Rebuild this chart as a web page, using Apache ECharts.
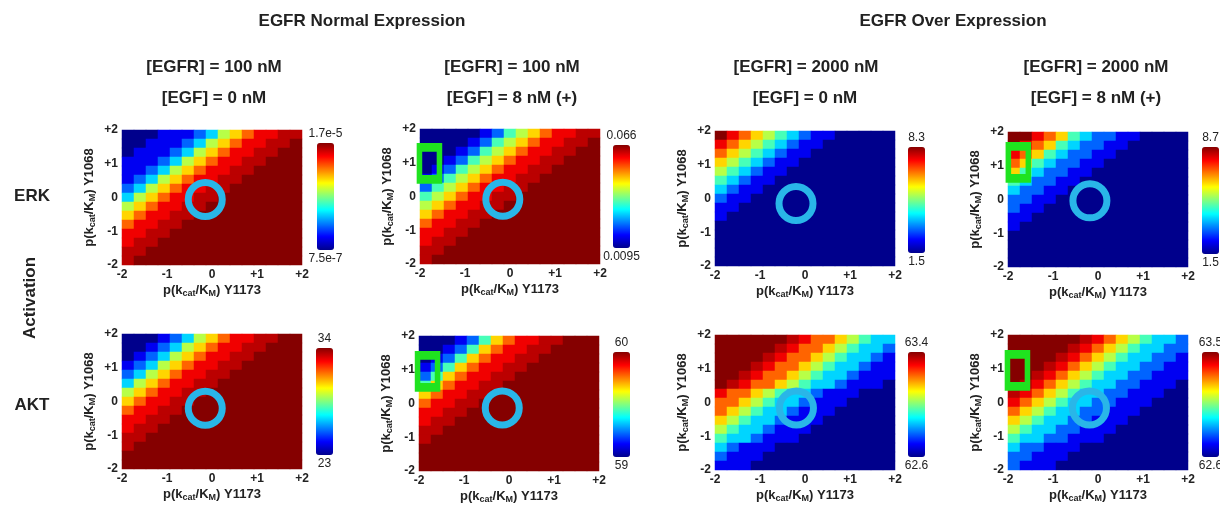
<!DOCTYPE html>
<html>
<head>
<meta charset="UTF-8">
<title>EGFR / ERK / AKT activation maps</title>
<script src="https://cdn.jsdelivr.net/npm/echarts@6/dist/echarts.min.js"></script>
<style>
  html, body { margin: 0; padding: 0; background: #fff; }
  #chart { width: 1220px; height: 506px; }
</style>
</head>
<body>
<div id="chart"></div>
<script>
// 15 x 15 cells per map, rows from +2 (top) down to -2, columns -2 .. +2
// each digit is the colour level (0 = bottom, 9 = top), x = between 8 and 9
var cells = [0, 1, 2, 3, 4, 5, 6, 7, 8, 9, 10, 11, 12, 13, 14];
var ticks = [-2, -1, 0, 1, 2];

var erkNormalNoEgf = [
  '0001112356788xx', '001112356788xx9', '01112356788xx99', '1112356788xx999', '112356788xx9999',
  '12356788xx99999', '2356788xx999999', '356788xx9999999', '56788xx99999999', '6788xx999999999',
  '788xx9999999999', '88xx99999999999', '8xx999999999999', 'xx9999999999999', 'x99999999999999'
];
var erkNormalEgf = [
  '0000012456788xx', '000012456788xx9', '00012456788xx99', '0012456788xx999', '012456788xx9999',
  '12456788xx99999', '2456788xx999999', '456788xx9999999', '56788xx99999999', '6788xx999999999',
  '788xx9999999999', '88xx99999999999', '8xx999999999999', 'xx9999999999999', 'x99999999999999'
];
var erkOverNoEgf = [
  '987654321100000', '876543211000000', '765432110000000', '654321100000000', '543211000000000',
  '432110000000000', '321100000000000', '211000000000000', '110000000000000', '100000000000000',
  '000000000000000', '000000000000000', '000000000000000', '000000000000000', '000000000000000'
];
var erkOverEgf = [
  '998764322110000', '987643221100000', '876432211000000', '764322110000000', '643221100000000',
  '432211000000000', '322110000000000', '221100000000000', '211000000000000', '110000000000000',
  '100000000000000', '000000000000000', '000000000000000', '000000000000000', '000000000000000'
];
var aktNormalNoEgf = [
  '00012356788xx99', '0012356788xx999', '012356788xx9999', '12356788xx99999', '2356788xx999999',
  '356788xx9999999', '56788xx99999999', '6788xx999999999', '788xx9999999999', '88xx99999999999',
  '8xx999999999999', 'xx9999999999999', 'x99999999999999', '999999999999999', '999999999999999'
];
var aktNormalEgf = [
  '0001246788xx999', '001246788xx9999', '01246788xx99999', '1246788xx999999', '246788xx9999999',
  '46788xx99999999', '6788xx999999999', '788xx9999999999', '88xx99999999999', '8xx999999999999',
  'xx9999999999999', 'x99999999999999', '999999999999999', '999999999999999', '999999999999999'
];
var aktOverNoEgf = [
  '999999x87765433', '99999x877654332', '9999x8776543321', '999x87765433211', '99x877654332111',
  '9x8776543321110', '877654332111000', '776543321110000', '765433211100000', '654332111000000',
  '543321110000000', '433211100000000', '321110000000000', '211100000000000', '111000000000000'
];
var aktOverEgf = [
  '999999x87654332', '99999x876543322', '9999x8765433221', '999x87654332211', '99x876543322111',
  '9x8765433221110', 'x87654332211100', '876543322111000', '765433221110000', '654332211100000',
  '543322111000000', '433221110000000', '322111000000000', '221110000000000', '211100000000000'
];

// colour bar ends, same order as the panels (ERK row left to right, then AKT row)
var barMin = [7.5e-7, 0.0095, 1.5, 1.5, 23, 59, 62.6, 62.6];
var barMax = [1.7e-5, 0.066, 8.3, 8.7, 34, 60, 63.4, 63.5];
var barMinText = ['7.5e-7', '0.0095', '1.5', '1.5', '23', '59', '62.6', '62.6'];
var barMaxText = ['1.7e-5', '0.066', '8.3', '8.7', '34', '60', '63.4', '63.5'];

// cyan ring (nominal point) and green box (highlighted cells), in axis units
var ringAt = [[-0.15, -0.06], [-0.16, -0.08], [-0.2, -0.15], [-0.18, -0.04],
              [-0.15, -0.2], [-0.15, -0.13], [-0.19, -0.16], [-0.19, -0.16]];
var boxAt = [null, [-1.79, 0.98], null, [-1.77, 1.1], null, [-1.81, 0.95], null, [-1.79, 0.95]];

var maps = [erkNormalNoEgf, erkNormalEgf, erkOverNoEgf, erkOverEgf,
            aktNormalNoEgf, aktNormalEgf, aktOverNoEgf, aktOverEgf];

// layout: plot boxes [left, top] (all 180 x 135) and colour bars [left, top, height] in px
var plotBox = [
  [122, 130], [420, 129], [715, 131], [1008, 132],
  [122, 334], [419, 336], [715, 335], [1008, 335]
];
var barBox = [
  [317, 143, 107], [613, 145, 103], [908, 147, 106], [1202, 147, 107],
  [316, 348, 107], [613, 352, 105], [908, 352, 105], [1202, 352, 105]
];

var jet = ['#00008c', '#0000ff', '#0080ff', '#00ffff', '#80ff80', '#ffff00', '#ff8000', '#ff0000', '#850000'];
var FONT = '"Liberation Sans", Arial, sans-serif';

function cellData(rows, lo, hi) {
  var out = [];
  for (var r = 0; r < rows.length; r++) {
    for (var c = 0; c < rows[r].length; c++) {
      var ch = rows[r].charAt(c);
      var level = ch === 'x' ? 8.5 : +ch;
      out.push([c, rows.length - 1 - r, lo + level / 9 * (hi - lo)]);
    }
  }
  return out;
}

function tickText(v) {
  return v > 0 ? '+' + v : '' + v;
}

var subRich = {
  n: { fontSize: 13, fontWeight: 'bold', color: '#222', fontFamily: FONT },
  s: { fontSize: 9, fontWeight: 'bold', color: '#222', fontFamily: FONT, padding: [7, 0, 0, 0] }
};

function text(txt, x, y, font, rot) {
  return {
    type: 'text', x: x, y: y, rotation: rot || 0, silent: true,
    style: {
      text: txt, fill: '#222', font: font,
      align: 'center', verticalAlign: 'middle', textAlign: 'center', textVerticalAlign: 'middle'
    }
  };
}

var grids = [], xAxes = [], yAxes = [], series = [], visualMaps = [], barLabels = [];

for (var i = 0; i < maps.length; i++) {
  var b = plotBox[i];
  grids.push({ left: b[0], top: b[1], width: 180, height: 135, containLabel: false });

  xAxes.push({ type: 'category', gridIndex: i, data: cells, show: false });
  xAxes.push({
    type: 'value', gridIndex: i, position: 'bottom',
    min: ticks[0], max: ticks[ticks.length - 1], interval: 1,
    axisLine: { show: false }, axisTick: { show: false }, splitLine: { show: false },
    axisLabel: { formatter: tickText, fontSize: 12, fontWeight: 'bold', color: '#222', margin: 4, fontFamily: FONT },
    name: '{n|p(k}{s|cat}{n|/K}{s|M}{n|) Y1173}', nameLocation: 'middle', nameGap: 17,
    nameTextStyle: { rich: subRich }
  });
  yAxes.push({ type: 'category', gridIndex: i, data: cells, show: false });
  yAxes.push({
    type: 'value', gridIndex: i, position: 'left',
    min: ticks[0], max: ticks[ticks.length - 1], interval: 1,
    axisLine: { show: false }, axisTick: { show: false }, splitLine: { show: false },
    axisLabel: { formatter: tickText, fontSize: 12, fontWeight: 'bold', color: '#222', margin: 4, fontFamily: FONT },
    name: '{n|p(k}{s|cat}{n|/K}{s|M}{n|) Y1068}', nameLocation: 'middle', nameGap: 25,
    nameTextStyle: { rich: subRich }
  });

  var bb = barBox[i];
  visualMaps.push({
    type: 'continuous', seriesIndex: series.length, min: barMin[i], max: barMax[i],
    calculable: false, hoverLink: false, padding: 0,
    left: bb[0], top: bb[1], itemWidth: 17, itemHeight: bb[2],
    text: null, showLabel: false,
    inRange: { color: jet }
  });
  barLabels.push(text(barMaxText[i], bb[0] + 8.5, bb[1] - 9, '12px ' + FONT));
  barLabels.push(text(barMinText[i], bb[0] + 8.5, bb[1] + bb[2] + 9, '12px ' + FONT));

  series.push({
    type: 'heatmap', xAxisIndex: 2 * i, yAxisIndex: 2 * i,
    data: cellData(maps[i], barMin[i], barMax[i]),
    itemStyle: { borderWidth: 0 }, emphasis: { disabled: true }
  });
  series.push({
    type: 'scatter', xAxisIndex: 2 * i + 1, yAxisIndex: 2 * i + 1, z: 4,
    data: [ringAt[i]], symbol: 'circle', symbolSize: 34, silent: true,
    itemStyle: { color: 'rgba(0,0,0,0)', borderColor: '#29b6e8', borderWidth: 7, opacity: 1 }
  });
  if (boxAt[i]) {
    series.push({
      type: 'scatter', xAxisIndex: 2 * i + 1, yAxisIndex: 2 * i + 1, z: 4,
      data: [boxAt[i]], symbol: 'rect', symbolSize: [20, 32], silent: true,
      itemStyle: { color: 'rgba(0,0,0,0)', borderColor: '#1fe31f', borderWidth: 7, opacity: 1 }
    });
  }
}

var HEAD = 'bold 17px ' + FONT;

var myChart = echarts.init(document.getElementById('chart'));

var option = {
  animation: false,
  backgroundColor: '#fff',
  grid: grids,
  xAxis: xAxes,
  yAxis: yAxes,
  visualMap: visualMaps,
  series: series,
  graphic: [
    text('EGFR Normal Expression', 362, 21, HEAD),
    text('EGFR Over Expression', 953, 21, HEAD),
    text('[EGFR] = 100 nM', 214, 67, HEAD),
    text('[EGFR] = 100 nM', 512, 67, HEAD),
    text('[EGFR] = 2000 nM', 806, 67, HEAD),
    text('[EGFR] = 2000 nM', 1096, 67, HEAD),
    text('[EGF] = 0 nM', 214, 98, HEAD),
    text('[EGF] = 8 nM (+)', 512, 98, HEAD),
    text('[EGF] = 0 nM', 805, 98, HEAD),
    text('[EGF] = 8 nM (+)', 1096, 98, HEAD),
    text('ERK', 32, 196, HEAD),
    text('Activation', 30, 298, HEAD, Math.PI / 2),
    text('AKT', 32, 405, HEAD)
  ].concat(barLabels)
};

myChart.setOption(option);
</script>
</body>
</html>
